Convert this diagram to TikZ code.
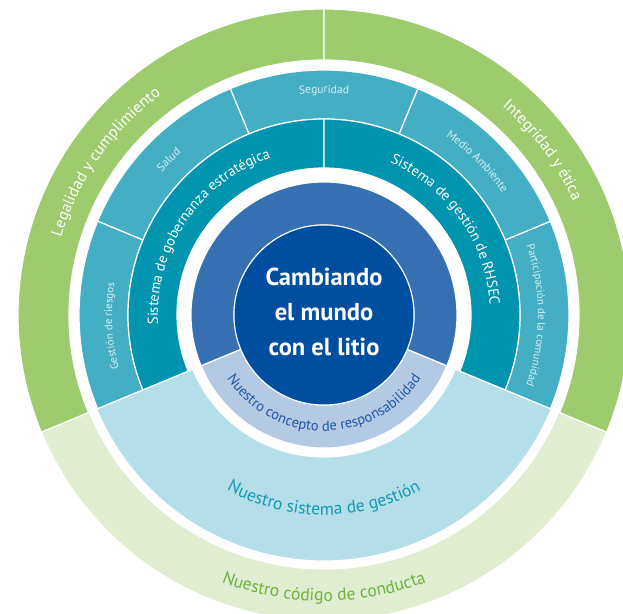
\documentclass[tikz,border=0pt]{standalone}
\usepackage{fontspec}
\setmainfont{PT Sans}
\usepackage{tikz}
\usetikzlibrary{decorations.text}

\definecolor{valuegreen}{RGB}{157,203,110}
\definecolor{codegreen}{RGB}{224,237,209}
\definecolor{codetext}{RGB}{108,180,60}
\definecolor{topicteal}{RGB}{67,174,196}
\definecolor{topictext}{RGB}{218,238,244}
\definecolor{systemteal}{RGB}{0,148,174}
\definecolor{managelight}{RGB}{180,223,232}
\definecolor{managetext}{RGB}{24,152,184}
\definecolor{conceptblue}{RGB}{54,112,178}
\definecolor{conceptlight}{RGB}{180,202,228}
\definecolor{concepttext}{RGB}{30,88,168}
\definecolor{coreblue}{RGB}{0,78,160}

\tikzset{
  band/.style={draw=white, line width=1.2pt},
  arctext/.style={decorate, decoration={text along path, text align=center, text={#1}}},
}

\begin{document}
\begin{tikzpicture}[x=1pt, y=1pt]
\clip (-324,-298) rectangle (299,315);

% outer band: code of conduct and the two values
\filldraw[band, fill=codegreen] (202.5:254) arc (202.5:337.5:254) -- (337.5:306) arc (337.5:202.5:306) -- cycle;
\filldraw[band, fill=valuegreen] (90:255) arc (90:202.5:255) -- (202.5:306) arc (202.5:90:306) -- cycle;
\filldraw[band, fill=valuegreen] (-22.5:255) arc (-22.5:90:255) -- (90:306) arc (90:-22.5:306) -- cycle;

% five topics, 45 degrees each
\foreach \a in {-22.5, 22.5, 67.5, 112.5, 157.5}
  \filldraw[band, fill=topicteal] (\a:196) arc (\a:\a+45:196) -- (\a+45:245) arc (\a+45:\a:245) -- cycle;

% the two systems
\filldraw[band, fill=systemteal] (90:147) arc (90:202.5:147) -- (202.5:196) arc (202.5:90:196) -- cycle;
\filldraw[band, fill=systemteal] (-22.5:147) arc (-22.5:90:147) -- (90:196) arc (90:-22.5:196) -- cycle;

% management system, lower part
\filldraw[band, fill=managelight] (202.5:142) arc (202.5:337.5:142) -- (337.5:246) arc (337.5:202.5:246) -- cycle;

% responsibility concept ring
\filldraw[band, fill=conceptblue] (-22.5:90) arc (-22.5:202.5:90) -- (202.5:133) arc (202.5:-22.5:133) -- cycle;
\filldraw[band, fill=conceptlight] (202.5:90) arc (202.5:337.5:90) -- (337.5:133) arc (337.5:202.5:133) -- cycle;

\path
(0,0) node[circle, draw=white, line width=1pt, fill=coreblue, minimum size=180, inner sep=0] (core) {}
(0,3) node[align=center, text=white, font=\bfseries\fontsize{24.5}{35}\selectfont] (motto)
  {Cambiando\\el mundo\\con el litio};

% texts along the rings
\path[arctext={|\fontsize{16}{16}\selectfont\color{white}|Legalidad y cumplimiento}] (195:274) arc (195:95:274);
\path[arctext={|\fontsize{16}{16}\selectfont\color{white}|Integridad y ética}] (87:274) arc (87:-13:274);

\path[arctext={|\fontsize{11.5}{11.5}\selectfont\color{topictext}|Seguridad}] (130:222) arc (130:50:222);
\path[arctext={|\fontsize{11.5}{11.5}\selectfont\color{topictext}|Salud}] (175:216) arc (175:95:216);
\path[arctext={|\fontsize{11.5}{11.5}\selectfont\color{topictext}|Medio Ambiente}] (85:216) arc (85:5:216);
\path[arctext={|\fontsize{11}{11}\selectfont\color{topictext}|Participación de la comunidad}] (40:214) arc (40:-40:214);
\path[arctext={|\fontsize{11}{11}\selectfont\color{topictext}|Gestión de riesgos}] (223:212) arc (223:143:212);

\path[arctext={|\fontsize{14.5}{14.5}\selectfont\color{white}|Sistema de gobernanza estratégica}] (206:166) arc (206:86:166);
\path[arctext={|\fontsize{14.5}{14.5}\selectfont\color{white}|Sistema de gestión de RHSEC}] (95:166) arc (95:-25:166);

\path[arctext={|\fontsize{14.5}{14.5}\selectfont\color{concepttext}|Nuestro concepto de responsabilidad}] (190:116) arc (190:350:116);
\path[arctext={|\fontsize{17.5}{17.5}\selectfont\color{managetext}|Nuestro sistema de gestión}] (220:200) arc (220:320:200);
\path[arctext={|\fontsize{17.5}{17.5}\selectfont\color{codetext}|Nuestro código de conducta}] (230:286) arc (230:310:286);

\end{tikzpicture}
\end{document}
